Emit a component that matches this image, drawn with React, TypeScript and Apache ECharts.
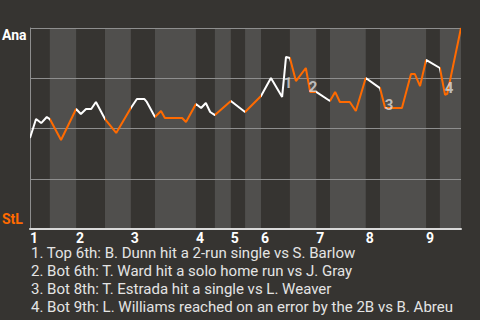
import React, { useEffect, useRef } from 'react';
import * as echarts from 'echarts';

// Game progress (% of game) at which each half-inning starts/ends
const halfInningBounds = [0, 4.6, 10.7, 17.4, 23.4, 29.0, 38.5, 42.9, 46.6, 49.9, 53.6, 60.3, 66.4, 69.6, 77.9, 81.2, 91.9, 95.1, 100];
const inningLabels = ['1', '2', '3', '4', '5', '6', '7', '8', '9'];

// Win probability trace (game progress %, value %)
const progress = [0, 1.4, 2.6, 3.9, 4.6, 7.2, 10.7, 11.8, 13.0, 14.2, 15.3, 17.4, 20.0, 23.4, 24.8, 26.5, 27.1, 29.0, 30.4, 31.3, 35.3, 36.2, 38.5, 39.7, 40.8, 41.8, 42.9, 46.6, 49.9, 53.6, 55.9, 58.5, 59.4, 60.3, 61.7, 64.0, 65.0, 66.4, 69.6, 70.8, 71.9, 74.2, 75.6, 77.9, 81.2, 82.4, 86.3, 88.4, 89.3, 90.5, 91.9, 95.1, 96.3, 96.8, 100];
const winProb = [45.3, 54.7, 52.7, 55.7, 54.7, 44.3, 59.7, 57.2, 59.7, 59.7, 63.2, 54.7, 47.8, 60.2, 64.7, 64.7, 63.2, 55.7, 58.7, 55.2, 55.2, 53.2, 62.2, 60.2, 62.7, 58.2, 56.7, 63.7, 58.2, 66.2, 75.1, 65.7, 85.6, 85.1, 73.6, 80.1, 68.2, 68.2, 63.7, 68.2, 63.2, 63.2, 58.7, 75.1, 70.1, 60.2, 60.2, 77.1, 77.1, 71.1, 84.1, 80.1, 66.7, 67.2, 100];

const teams = ['Ana', 'StL'];

// Key-play markers
const noteMarks = ['1', '2', '3', '4'];
const noteX = [59.9, 65.7, 83.3, 97.2];
const noteY = [72.6, 70.6, 61.7, 70.1];
const notes = [
  '1. Top 6th: B. Dunn hit a 2-run single vs S. Barlow',
  '2. Bot 6th: T. Ward hit a solo home run vs J. Gray',
  '3. Bot 8th: T. Estrada hit a single vs L. Weaver',
  '4. Bot 9th: L. Williams reached on an error by the 2B vs B. Abreu',
];

const WHITE = '#ffffff';
const ORANGE = '#ff6a00';
const BG = '#363431';
const BAND = '#504f4d';
const GRID = '#8e8e8e';

export default function App() {
  const ref = useRef<HTMLDivElement>(null);

  useEffect(() => {
    const chart = echarts.init(ref.current as HTMLDivElement, null, { renderer: 'svg' });
    const n = halfInningBounds.length - 1;
    const pieces: any[] = [];
    for (let i = 0; i < n; i++) {
      const p: any = { gte: halfInningBounds[i], color: i % 2 === 0 ? WHITE : ORANGE };
      if (i === n - 1) p.lte = halfInningBounds[i + 1];
      else p.lt = halfInningBounds[i + 1];
      pieces.push(p);
    }
    const bottomBands: any[] = [];
    for (let i = 1; i < n; i += 2) {
      bottomBands.push([{ xAxis: halfInningBounds[i] }, { xAxis: halfInningBounds[i + 1] }]);
    }
    const topStarts = halfInningBounds.filter((_, i) => i % 2 === 0 && i < n);

    const graphics: any[] = [
      { type: 'text', x: 2, y: 35, style: { text: teams[0], fill: WHITE, font: 'bold 14px Roboto', verticalAlign: 'middle' } },
      { type: 'text', x: 2, y: 219, style: { text: teams[1], fill: ORANGE, font: 'bold 14px Roboto', verticalAlign: 'middle' } },
    ];
    notes.forEach((t, i) => {
      graphics.push({
        type: 'text',
        x: 31,
        y: 253 + i * 18,
        style: { text: t, fill: '#e4e4e4', font: '15px Roboto', lineHeight: 15, verticalAlign: 'middle' },
      });
    });

    chart.setOption({
      animation: false,
      backgroundColor: BG,
      grid: { left: 30, right: 19, top: 28, bottom: 91, containLabel: false },
      xAxis: {
        type: 'value',
        min: 0,
        max: 100,
        z: 3,
        axisLine: { show: true, lineStyle: { color: '#d9d9d9', width: 2 } },
        axisTick: { show: false },
        splitLine: { show: false },
        axisLabel: {
          customValues: topStarts,
          formatter: (v: number) => {
            let best = 0;
            topStarts.forEach((s, i) => { if (Math.abs(s - v) < Math.abs(topStarts[best] - v)) best = i; });
            return inningLabels[best];
          },
          color: WHITE,
          fontWeight: 'bold',
          fontSize: 14,
          lineHeight: 12,
          fontFamily: 'Roboto',
          align: 'left',
          margin: 3,
        },
      },
      yAxis: {
        type: 'value',
        min: 0,
        max: 100,
        interval: 25,
        z: 3,
        axisLine: { show: true, lineStyle: { color: GRID, width: 1 } },
        axisTick: { show: false },
        axisLabel: { show: false },
        splitLine: { show: true, lineStyle: { color: GRID, width: 1 } },
      },
      visualMap: { type: 'piecewise', show: false, dimension: 0, seriesIndex: 1, pieces },
      series: [
        {
          type: 'line',
          data: [],
          z: 1,
          silent: true,
          markArea: { silent: true, itemStyle: { color: BAND }, data: bottomBands },
        },
        {
          type: 'line',
          data: progress.map((x, i) => [x, winProb[i]]),
          showSymbol: false,
          symbol: 'none',
          lineStyle: { width: 2 },
          z: 5,
        },
        {
          type: 'scatter',
          data: noteX.map((x, i) => [x, noteY[i]]),
          symbolSize: 0,
          z: 6,
          label: {
            show: true,
            position: 'inside',
            formatter: (p: any) => noteMarks[p.dataIndex],
            color: '#dcdcdc',
            fontWeight: 'bold',
            fontSize: 15,
            fontFamily: 'Roboto',
          },
        },
      ],
      graphic: graphics,
    });
    return () => chart.dispose();
  }, []);

  return <div ref={ref} style={{ position: 'fixed', left: 0, top: 0, width: 480, height: 320 }} />;
}
